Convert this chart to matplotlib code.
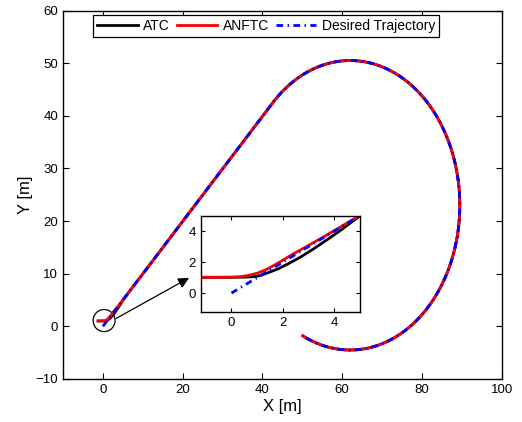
import numpy as np
import matplotlib
matplotlib.use("Agg")
import matplotlib.pyplot as plt
from matplotlib.patches import Ellipse

plt.rcParams['font.family'] = ['Liberation Sans', 'DejaVu Sans']

# ---- data ----
# desired trajectory: straight segment then clockwise circular arc
line_start = (0.0, 0.0)
line_end = (42.55, 42.45)
arc_center = (62.0, 23.0)
arc_radius = 27.5
arc_start_deg = 135.0
arc_end_deg = -115.6

# initial transients (inset region) for the two controllers
atc_x = [-1.2, -0.6, 0.0, 0.5, 0.8, 1.1, 1.4, 1.8, 2.2, 2.7, 3.2, 3.8, 4.3, 4.8, 5.0]
atc_y = [1.02, 1.02, 1.02, 1.03, 1.05, 1.12, 1.30, 1.55, 1.88, 2.33, 2.85, 3.52, 4.10, 4.72, 4.97]
anftc_x = [-1.2, -0.6, 0.0, 0.3, 0.6, 1.0, 1.4, 1.9, 2.4, 3.0, 3.6, 4.2, 4.7, 5.0]
anftc_y = [1.02, 1.02, 1.03, 1.05, 1.12, 1.28, 1.55, 2.02, 2.52, 3.07, 3.63, 4.22, 4.71, 5.0]

x_ticks = [0, 20, 40, 60, 80, 100]
y_ticks = [-10, 0, 10, 20, 30, 40, 50, 60]
inset_ticks = [0, 2, 4]

# ---- build paths ----
theta = np.radians(np.linspace(arc_start_deg, arc_end_deg, 400))
arc_x = arc_center[0] + arc_radius * np.cos(theta)
arc_y = arc_center[1] + arc_radius * np.sin(theta)

des_x = np.concatenate([[line_start[0], line_end[0]], arc_x])
des_y = np.concatenate([[line_start[1], line_end[1]], arc_y])

# controllers follow the desired path after the transient
after_x = np.concatenate([[line_end[0]], arc_x])
after_y = np.concatenate([[line_end[1]], arc_y])
atc_full_x = np.concatenate([atc_x, after_x])
atc_full_y = np.concatenate([atc_y, after_y])
anftc_full_x = np.concatenate([anftc_x, after_x])
anftc_full_y = np.concatenate([anftc_y, after_y])

dash_style = (0, (2.4, 1.6, 0.5, 1.6))

fig = plt.figure(figsize=(5.22, 4.22), dpi=100)
ax = fig.add_axes([0.1207, 0.1019, 0.8404, 0.8732])

def draw(a, lw):
    a.plot(atc_full_x, atc_full_y, color='black', lw=lw, label='ATC')
    a.plot(anftc_full_x, anftc_full_y, color='red', lw=lw, label='ANFTC')
    a.plot(des_x, des_y, color='blue', lw=lw, linestyle=dash_style,
           label='Desired Trajectory')

draw(ax, 2.0)
ax.set_xlim(-10, 100)
ax.set_ylim(-10, 60)
ax.set_xticks(x_ticks)
ax.set_yticks(y_ticks)
ax.tick_params(direction='in', top=True, right=True, labelsize=9.5, length=4,
               width=0.8)
for s in ax.spines.values():
    s.set_linewidth(1.0)
ax.set_xlabel('X [m]', fontsize=12, labelpad=2)
ax.set_ylabel('Y [m]', fontsize=12, labelpad=2)

leg = ax.legend(loc='upper left', bbox_to_anchor=(0.069, 0.988), ncol=3,
                fontsize=10, handlelength=2.9, handletextpad=0.4,
                columnspacing=0.5, borderpad=0.3, borderaxespad=0,
                fancybox=False, framealpha=1, edgecolor='black')
leg.get_frame().set_linewidth(0.9)

# circle marking zoom region and arrow
ax.add_patch(Ellipse((0.3, 1.1), 5.5, 4.2, fill=False, edgecolor='black', lw=0.9))
ax.annotate('', xy=(21.6, 9.2), xytext=(3.3, 1.5),
            arrowprops=dict(arrowstyle='-|>', color='black', lw=0.9,
                            mutation_scale=16, shrinkA=0, shrinkB=0))

# inset
axi = fig.add_axes([0.3845, 0.2614, 0.3042, 0.2275])
draw(axi, 2.0)
axi.set_xlim(-1.2, 5)
axi.set_ylim(-1.2, 5)
axi.set_xticks(inset_ticks)
axi.set_yticks(inset_ticks)
axi.tick_params(direction='in', top=True, right=True, labelsize=9.5, length=3,
                width=0.8)
for s in axi.spines.values():
    s.set_linewidth(1.0)

fig.savefig('out.png', dpi=100)
